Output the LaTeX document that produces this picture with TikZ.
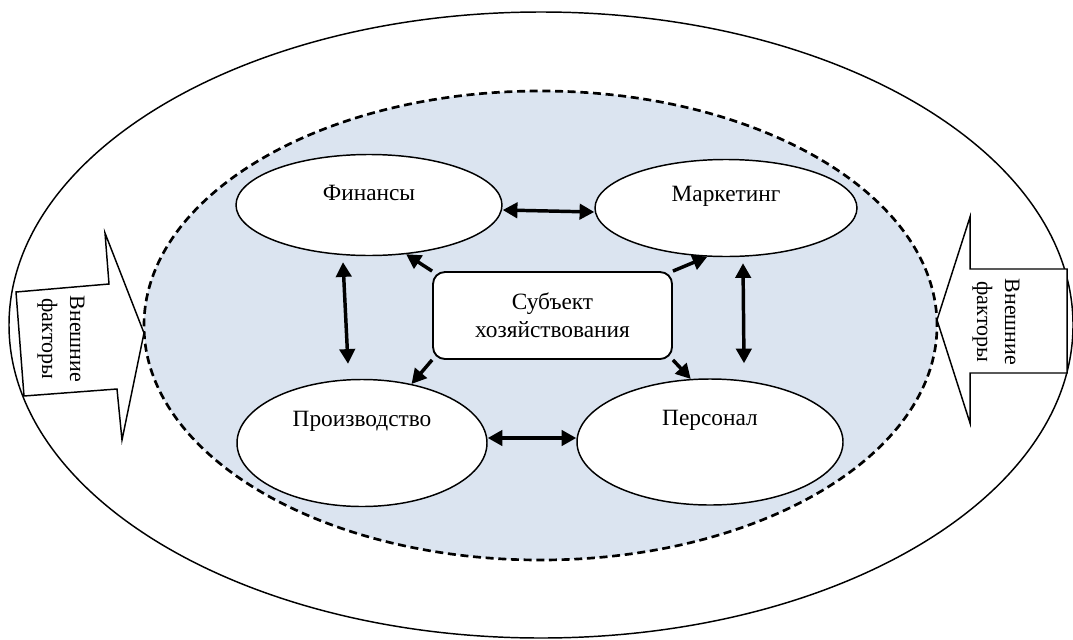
\documentclass[tikz,border=0pt]{standalone}
\usepackage{fontspec}
\setmainfont{Liberation Serif}
\usetikzlibrary{arrows.meta,positioning,shapes,calc}
\definecolor{firmfill}{HTML}{DBE4F0}

\begin{document}
\begin{tikzpicture}[x=0.75pt, y=-0.75pt, font=\fontsize{17.5}{21}\selectfont,
  unit node/.style={ellipse,draw,fill=white,line width=1.1pt,inner sep=0pt},
  subject node/.style={rectangle,rounded corners=9pt,draw,fill=white,line width=1.4pt,align=center,minimum width=179.25pt,minimum height=65.25pt},
  both arrow/.style={{Triangle[length=11pt,width=11.5pt]}-{Triangle[length=11pt,width=11.5pt]},line width=2.6pt},
  one arrow/.style={-{Triangle[length=11pt,width=11.5pt]},line width=2.6pt},
  factor arrow/.style={draw,fill=white,line width=1.1pt,line join=miter}]
\useasboundingbox (0,0) rectangle (1073,639);
\begin{scope}
\node[ellipse,draw,line width=1.1pt,minimum width=798pt,minimum height=469.5pt] (env) at (541,325) {};
\node[ellipse,draw,fill=firmfill,line width=2pt,dash pattern=on 6pt off 3.5pt,minimum width=594.75pt,minimum height=351.75pt] (firm) at (540.5,325.5) {};
\end{scope}
% external factors
\draw[factor arrow] (16,292) -- (109,284) -- (105,233) -- (144,333) -- (122,440) -- (117,389) -- (24,396) -- cycle;
\draw[factor arrow] (1067,269) -- (970,269) -- (970,217) -- (937,320) -- (970,423) -- (970,373) -- (1067,373) -- cycle;
\node[rotate=-90,align=center,font=\fontsize{16.5}{21}\selectfont] (left factors) at (61,339) {Внешние\\факторы};
\node[rotate=-90,align=center,font=\fontsize{16.5}{21}\selectfont] (right factors) at (996,322) {Внешние\\факторы};
\begin{scope}
\node[unit node,minimum width=199.5pt,minimum height=75.75pt] (fin) at (369,205) {};
\node[unit node,minimum width=196.5pt,minimum height=72.75pt] (mar) at (726,208) {};
\node[unit node,minimum width=187.5pt,minimum height=95.25pt] (pro) at (362,443) {};
\node[unit node,minimum width=199.5pt,minimum height=94.5pt] (per) at (710,442) {};
\node (fin text) at ($(fin)+(0,-12)$) {Финансы};
\node (mar text) at ($(mar)+(0,-12)$) {Маркетинг};
\node (pro text) at ($(pro)+(0,-22)$) {Производство};
\node (per text) at ($(per)+(0,-22)$) {Персонал};
\node[subject node] (sub) at (552.5,315.5) {Субъект\\хозяйствования};
\end{scope}
\begin{scope}
\draw[both arrow] ($(fin.east)+(0,5)$) -- ($(mar.west)+(0,4)$);
\draw[both arrow] ($(pro.east)+(0,-5)$) -- ($(per.west)+(0,-4)$);
\draw[both arrow] ($(fin.south)+(-26,6)$) -- ($(pro.north)+(-14,-15)$);
\draw[both arrow] ($(mar.south)+(17,6)$) -- ($(per.north)+(34,-15)$);
\draw[one arrow] (sub.north west) -- (fin.-53);
\draw[one arrow] (sub.north east) -- (mar.-111);
\draw[one arrow] (sub.south west) -- (pro.50);
\draw[one arrow] (sub.south east) -- (per.107);
\end{scope}
\end{tikzpicture}
\end{document}
